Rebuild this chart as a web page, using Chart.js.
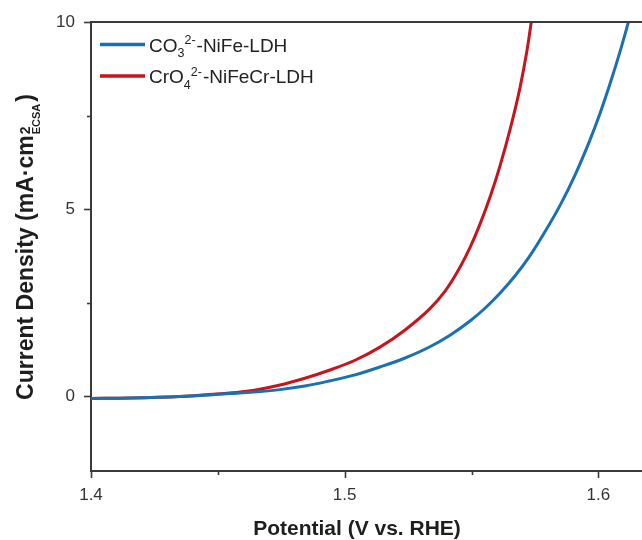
<!DOCTYPE html>
<html>
<head>
<meta charset="utf-8">
<script src="https://cdn.jsdelivr.net/npm/chart.js@4.4.1/dist/chart.umd.min.js"></script>
<style>
  html, body { margin: 0; padding: 0; background: #fff; }
  #wrap { width: 642px; height: 540px; position: relative; }
</style>
</head>
<body>
<div id="wrap"><canvas id="lsvChart"></canvas></div>
<script>
// Polarization curves (LSV), potential in V vs. RHE, current density in mA cm-2 (ECSA)
const potentialNiFe = [1.4000, 1.4154, 1.4351, 1.4481, 1.4615, 1.4745, 1.4843, 1.4942, 1.5041, 1.5139, 1.5238, 1.5336, 1.5415, 1.5494, 1.5553, 1.5612, 1.5671, 1.5730, 1.5790, 1.5849, 1.5908, 1.5967, 1.6006, 1.6045, 1.6077, 1.6105, 1.6118, 1.6130];
const currentNiFe   = [-0.06, -0.05, -0.01, 0.04, 0.095, 0.175, 0.27, 0.41, 0.57, 0.78, 1.02, 1.32, 1.63, 2.01, 2.35, 2.75, 3.21, 3.75, 4.40, 5.10, 5.91, 6.85, 7.55, 8.33, 9.02, 9.67, 9.99, 10.3];

const potentialNiFeCr = [1.4000, 1.4154, 1.4351, 1.4481, 1.4615, 1.4745, 1.4843, 1.4942, 1.5041, 1.5139, 1.5238, 1.5336, 1.5395, 1.5454, 1.5494, 1.5533, 1.5573, 1.5612, 1.5652, 1.5691, 1.5719, 1.5737, 1.5750];
const currentNiFeCr   = [-0.06, -0.05, -0.01, 0.05, 0.13, 0.30, 0.48, 0.70, 0.96, 1.31, 1.77, 2.34, 2.80, 3.44, 3.97, 4.59, 5.32, 6.15, 7.13, 8.24, 9.25, 10.05, 10.5];

// Axis ticks (minor ticks carry an empty label)
const xTicks = [1.40, 1.45, 1.50, 1.55, 1.60];
const xTickLabels = ['1.4', '', '1.5', '', '1.6'];
const yTicks = [0, 2.5, 5, 7.5, 10];
const yTickLabels = ['0', '', '5', '', '10'];

const BLUE = 'rgb(27, 112, 176)';
const RED = 'rgb(200, 20, 30)';
const AXIS = '#3a3a3a';
const FONT = 'Arial, "Liberation Sans", sans-serif';

function toPoints(xs, ys) {
    return xs.map(function(x, i) { return { x: x, y: ys[i] }; });
}

// draws a run of text pieces: [text, size, dy, extraGap] with baseline shifts for sub/superscripts
function drawRuns(ctx, runs, x, y, weight) {
    let cx = x;
    runs.forEach(function(r) {
        ctx.font = weight + ' ' + r[1] + 'px ' + FONT;
        ctx.fillText(r[0], cx, y + r[2]);
        cx += ctx.measureText(r[0]).width + (r[3] || 0);
    });
    return cx - x;
}

// frame, tick marks, axis titles and legend
const decorations = {
    id: 'decorations',
    afterDraw: function(chart) {
        const ctx = chart.ctx;
        const area = chart.chartArea;
        const xs = chart.scales.x;
        const ys = chart.scales.y;
        ctx.save();

        // top frame line
        ctx.strokeStyle = AXIS;
        ctx.lineWidth = 2;
        ctx.beginPath();
        ctx.moveTo(area.left - 1, area.top);
        ctx.lineTo(area.right, area.top);
        ctx.stroke();

        // outward tick marks
        ctx.lineWidth = 1.6;
        xTicks.forEach(function(v, i) {
            const px = Math.round(xs.getPixelForValue(v)) + 0.5;
            const len = xTickLabels[i] ? 7 : 4;
            ctx.beginPath();
            ctx.moveTo(px, area.bottom);
            ctx.lineTo(px, area.bottom + len);
            ctx.stroke();
        });
        yTicks.forEach(function(v, i) {
            const py = Math.round(ys.getPixelForValue(v)) + 0.5;
            const len = yTickLabels[i] ? 7 : 4;
            ctx.beginPath();
            ctx.moveTo(area.left, py);
            ctx.lineTo(area.left - len, py);
            ctx.stroke();
        });

        ctx.fillStyle = '#1e1e1e';
        ctx.textBaseline = 'alphabetic';
        ctx.textAlign = 'left';

        // x axis title
        ctx.font = 'bold 21px ' + FONT;
        const xt = 'Potential (V vs. RHE)';
        ctx.fillText(xt, 357 - ctx.measureText(xt).width / 2, 535);

        // y axis title, superscript 2 stacked over subscript ECSA
        ctx.save();
        ctx.translate(33, 247);
        ctx.rotate(-Math.PI / 2);
        ctx.font = 'bold 23px ' + FONT;
        const main = 'Current Density (mA\u00b7cm';
        const wMain = ctx.measureText(main).width;
        ctx.font = 'bold 14px ' + FONT;
        const wSup = ctx.measureText('2').width;
        ctx.font = 'bold 11px ' + FONT;
        const wSub = ctx.measureText('ECSA').width;
        ctx.font = 'bold 23px ' + FONT;
        const wClose = ctx.measureText(')').width;
        const total = wMain + 1 + Math.max(wSup, wSub) + 2 + wClose;
        let cx = -total / 2;
        ctx.fillText(main, cx, 0);
        cx += wMain + 1;
        ctx.font = 'bold 14px ' + FONT;
        ctx.fillText('2', cx, -3);
        ctx.font = 'bold 11px ' + FONT;
        ctx.fillText('ECSA', cx, 7);
        cx += Math.max(wSup, wSub) + 2;
        ctx.font = 'bold 23px ' + FONT;
        ctx.fillText(')', cx, 0);
        ctx.restore();

        // legend
        const rows = [
            { color: BLUE, y: 44.5, runs: [['CO', 19, 0], ['3', 12.5, 5.5], ['2-', 12.5, -7.5, 1], ['-NiFe-LDH', 19, 0]] },
            { color: RED, y: 76, runs: [['CrO', 19, 0], ['4', 12.5, 5.5], ['2-', 12.5, -7.5, 1], ['-NiFeCr-LDH', 19, 0]] }
        ];
        rows.forEach(function(row) {
            ctx.strokeStyle = row.color;
            ctx.lineWidth = 3.5;
            ctx.beginPath();
            ctx.moveTo(100, row.y);
            ctx.lineTo(145, row.y);
            ctx.stroke();
            ctx.fillStyle = '#222';
            drawRuns(ctx, row.runs, 149, row.y + 7, 'normal');
        });

        ctx.restore();
    }
};

new Chart(document.getElementById('lsvChart'), {
    type: 'line',
    data: {
        datasets: [
            {
                label: 'CO3 2- NiFe-LDH',
                data: toPoints(potentialNiFe, currentNiFe),
                borderColor: BLUE,
                borderWidth: 3,
                pointRadius: 0,
                cubicInterpolationMode: 'monotone',
                fill: false
            },
            {
                label: 'CrO4 2- NiFeCr-LDH',
                data: toPoints(potentialNiFeCr, currentNiFeCr),
                borderColor: RED,
                borderWidth: 3,
                pointRadius: 0,
                cubicInterpolationMode: 'monotone',
                fill: false
            }
        ]
    },
    options: {
        responsive: true,
        maintainAspectRatio: false,
        animation: false,
        layout: { padding: { top: 22, right: 0, left: 0, bottom: 0 } },
        plugins: {
            legend: { display: false },
            tooltip: { enabled: false }
        },
        scales: {
            x: {
                type: 'linear',
                min: 1.4,
                max: 1.6172,
                afterBuildTicks: function(scale) {
                    scale.ticks = xTicks.map(function(v) { return { value: v }; });
                },
                afterFit: function(scale) { scale.height = 69; },
                grid: { drawOnChartArea: false, tickLength: 7, tickColor: 'transparent' },
                border: { display: true, color: AXIS, width: 2 },
                ticks: {
                    autoSkip: false,
                    maxRotation: 0,
                    padding: 7,
                    color: '#333',
                    font: { family: FONT, size: 17 },
                    callback: function(value, index) { return xTickLabels[index]; }
                }
            },
            y: {
                type: 'linear',
                min: -2,
                max: 10,
                afterBuildTicks: function(scale) {
                    scale.ticks = yTicks.map(function(v) { return { value: v }; });
                },
                afterFit: function(scale) { scale.width = 91; },
                grid: { drawOnChartArea: false, tickLength: 7, tickColor: 'transparent' },
                border: { display: true, color: AXIS, width: 2 },
                ticks: {
                    autoSkip: false,
                    padding: 9,
                    color: '#333',
                    font: { family: FONT, size: 17 },
                    callback: function(value, index) { return yTickLabels[index]; }
                }
            }
        }
    },
    plugins: [decorations]
});
</script>
</body>
</html>
